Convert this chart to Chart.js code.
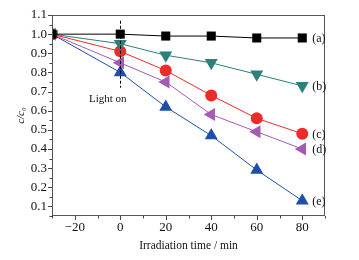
<!DOCTYPE html>
<html><head><meta charset="utf-8">
<script src="https://cdn.jsdelivr.net/npm/chart.js@4"></script>
<style>html,body{margin:0;padding:0;background:#fff}#wrap{width:359px;height:260px}</style>
</head><body><div id="wrap"><canvas id="c"></canvas></div>
<script>
const times = [-30, 0, 20, 40, 60, 80];
const seriesA = [1.0, 1.0, 0.99, 0.99, 0.98, 0.98];
const seriesB = [1.0, 0.95, 0.89, 0.85, 0.79, 0.73];
const seriesC = [1.0, 0.91, 0.81, 0.68, 0.56, 0.48];
const seriesD = [1.0, 0.85, 0.75, 0.58, 0.49, 0.40];
const seriesE = [1.0, 0.80, 0.62, 0.47, 0.29, 0.13];
const seriesLabels = ['(a)', '(b)', '(c)', '(d)', '(e)'];
const xTicks = [-20, 0, 20, 40, 60, 80];
const yTicks = [0.1, 0.2, 0.3, 0.4, 0.5, 0.6, 0.7, 0.8, 0.9, 1.0, 1.1];

const FONT = '"Liberation Serif", "DejaVu Serif", serif';
function pts(v){ return times.map((t,i)=>({x:t,y:v[i]})); }
function ds(label, vals, color, style, rot, r){
  return {label, data: pts(vals), borderColor: color, backgroundColor: color,
    borderWidth: 1, pointStyle: style, pointRotation: rot||0, pointRadius: r,
    pointBorderWidth: 0, tension: 0};
}
const datasets = [
  ds(seriesLabels[0], seriesA, '#000000', 'rect', 0, 6.4),
  ds(seriesLabels[1], seriesB, '#2d7f7a', 'triangle', 180, 7.5),
  ds(seriesLabels[2], seriesC, '#ee2a2a', 'circle', 0, 6),
  ds(seriesLabels[3], seriesD, '#a55ab5', 'triangle', 270, 7.5),
  ds(seriesLabels[4], seriesE, '#1f4faa', 'triangle', 0, 7.5)
];

const deco = {
  id: 'deco',
  afterDraw(chart){
    const {ctx, chartArea: a, scales:{x, y}} = chart;
    ctx.save();
    ctx.strokeStyle = '#555';
    ctx.lineWidth = 1;
    ctx.strokeRect(a.left+0.5, a.top+0.5, a.right-a.left-1, a.bottom-a.top-1);
    ctx.strokeStyle = '#444';
    ctx.beginPath();
    for (let v=-30; v<=90; v+=10){
      const px = Math.round(x.getPixelForValue(v))+0.5;
      const major = xTicks.includes(v);
      ctx.moveTo(px, a.bottom); ctx.lineTo(px, a.bottom + (major?4:2.5));
    }
    for (let k=1; k<=22; k++){
      const v = 0.05*k;
      if (v > 1.1001) continue;
      const py = Math.round(y.getPixelForValue(v))+0.5;
      const major = (k%2===0);
      ctx.moveTo(a.left, py); ctx.lineTo(a.left - (major?4:2.5), py);
    }
    ctx.stroke();
    ctx.setLineDash([3,2]);
    ctx.strokeStyle = '#000';
    const x0 = Math.round(x.getPixelForValue(0))+0.5;
    ctx.beginPath();
    ctx.moveTo(x0, y.getPixelForValue(1.07));
    ctx.lineTo(x0, y.getPixelForValue(0.72));
    ctx.stroke();
    ctx.setLineDash([]);
    ctx.fillStyle = '#111';
    ctx.font = '11px ' + FONT;
    ctx.textAlign = 'center'; ctx.textBaseline = 'middle';
    ctx.fillText('Light on', x.getPixelForValue(-5.5), y.getPixelForValue(0.66));
    ctx.font = '12px ' + FONT;
    ctx.textAlign = 'left';
    chart.data.datasets.forEach((d)=>{
      const last = d.data[d.data.length-1];
      ctx.fillText(d.label, x.getPixelForValue(last.x)+10, y.getPixelForValue(last.y)+1);
    });
    ctx.restore();
  }
};

new Chart(document.getElementById('c'), {
  type: 'line',
  data: { datasets },
  options: {
    responsive: true, maintainAspectRatio: false, animation: false,
    layout: { padding: { left: 11, right: 34, top: 15, bottom: 7 } },
    plugins: { legend: { display: false }, tooltip: { enabled: false } },
    scales: {
      x: {
        type: 'linear', min: -30, max: 90,
        afterBuildTicks: s => { s.ticks = xTicks.map(v=>({value:v})); },
        afterFit: s => { s.height = 37; },
        grid: { display: false, drawTicks: false },
        border: { display: false },
        ticks: { color: '#111', font: { family: FONT, size: 13 }, padding: 4,
          callback: v => v < 0 ? '\u2212' + Math.abs(v) : String(v) },
        title: { display: true, text: 'Irradiation time / min', color: '#111',
          font: { family: FONT, size: 11.5 }, padding: { top: 0, bottom: 0 } }
      },
      y: {
        type: 'linear', min: 0.05, max: 1.1,
        afterBuildTicks: s => { s.ticks = yTicks.map(v=>({value:v})); },
        afterFit: s => { s.width = 41; },
        grid: { display: false, drawTicks: false },
        border: { display: false },
        ticks: { color: '#111', font: { family: FONT, size: 13 }, padding: 5,
          callback: v => v.toFixed(1) },
        title: { display: true, text: 'c/c\u2080', color: '#111',
          font: { family: FONT, size: 11, style: 'italic' }, padding: { bottom: 0 } }
      }
    }
  },
  plugins: [deco]
});
</script></body></html>
